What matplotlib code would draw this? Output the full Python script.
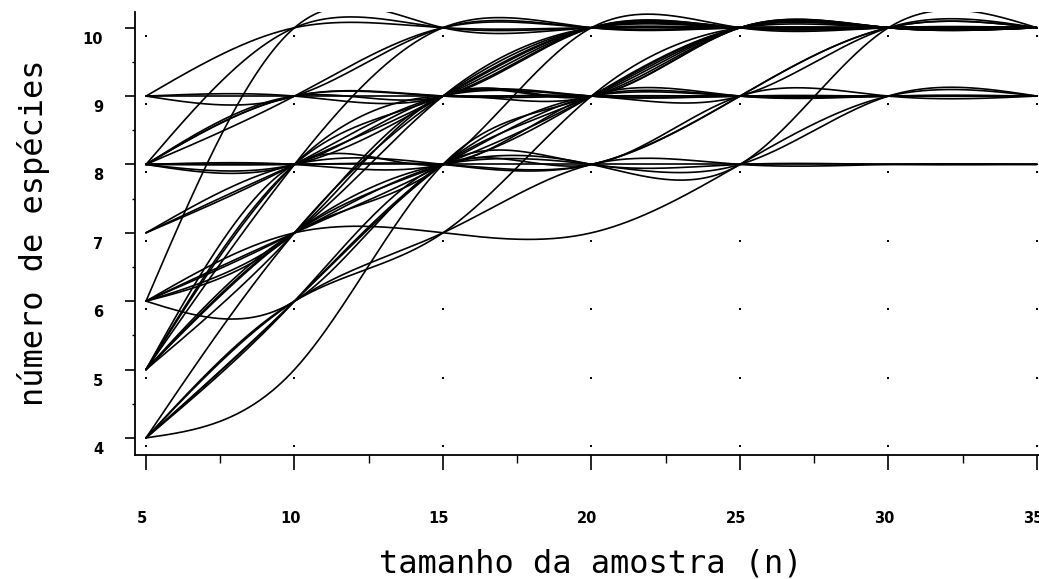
import numpy as np
import matplotlib
matplotlib.use("Agg")
import matplotlib.pyplot as plt
from matplotlib.transforms import ScaledTranslation

# ---------------- data ----------------
sample_sizes = [5, 10, 15, 20, 25, 30, 35]

start_9 = [
    [9, 10, 10, 10, 10, 10, 10],
    [9, 9, 9, 9, 9, 9, 9],
    [9, 9, 10, 10, 10, 10, 10],
    [9, 9, 9, 10, 10, 10, 10],
]
start_8 = [
    [8, 10, 10, 10, 10, 10, 10],
    [8, 9, 10, 10, 10, 10, 10],
    [8, 9, 9, 10, 10, 10, 10],
    [8, 9, 9, 9, 9, 10, 10],
    [8, 9, 9, 9, 9, 9, 9],
    [8, 8, 8, 8, 8, 8, 8],
    [8, 8, 9, 9, 9, 9, 9],
    [8, 8, 8, 9, 10, 10, 10],
    [8, 8, 9, 10, 10, 10, 10],
    [8, 8, 8, 8, 9, 10, 10],
]
start_7 = [
    [7, 8, 9, 9, 9, 9, 9],
    [7, 8, 8, 8, 9, 10, 10],
    [7, 8, 9, 10, 10, 10, 10],
]
start_6 = [
    [6, 10, 10, 10, 10, 10, 10],
    [6, 7, 9, 10, 10, 10, 10],
    [6, 7, 9, 9, 10, 10, 10],
    [6, 7, 7, 7, 8, 9, 9],
    [6, 6, 8, 8, 8, 8, 8],
    [6, 7, 8, 9, 9, 9, 9],
    [6, 7, 8, 8, 8, 10, 10],
]
start_5 = [
    [5, 8, 9, 9, 10, 10, 10],
    [5, 8, 8, 9, 9, 9, 9],
    [5, 8, 9, 10, 10, 10, 10],
    [5, 7, 9, 9, 10, 10, 10],
    [5, 7, 8, 8, 8, 9, 9],
    [5, 7, 8, 9, 10, 10, 10],
    [5, 8, 10, 10, 10, 10, 10],
    [5, 7, 8, 10, 10, 10, 10],
]
start_4 = [
    [4, 6, 8, 9, 9, 9, 9],
    [4, 6, 7, 8, 8, 8, 8],
    [4, 6, 8, 8, 9, 9, 9],
    [4, 5, 8, 9, 10, 10, 10],
    [4, 7, 9, 10, 10, 10, 10],
    [4, 6, 8, 9, 10, 10, 10],
    [4, 6, 7, 9, 10, 10, 10],
]

x_ticks = [5, 10, 15, 20, 25, 30, 35]
y_ticks = [4, 5, 6, 7, 8, 9, 10]
x_label = "tamanho da amostra (n)"
y_label = "número de espécies"


def natural_cubic(x, y, xs):
    x = np.asarray(x, float)
    y = np.asarray(y, float)
    n = len(x)
    h = np.diff(x)
    A = np.zeros((n, n))
    b = np.zeros(n)
    A[0, 0] = A[-1, -1] = 1.0
    for i in range(1, n - 1):
        A[i, i - 1] = h[i - 1]
        A[i, i] = 2 * (h[i - 1] + h[i])
        A[i, i + 1] = h[i]
        b[i] = 6 * ((y[i + 1] - y[i]) / h[i] - (y[i] - y[i - 1]) / h[i - 1])
    M = np.linalg.solve(A, b)
    idx = np.clip(np.searchsorted(x, xs) - 1, 0, n - 2)
    x0 = x[idx]
    x1 = x[idx + 1]
    hh = x1 - x0
    t0 = x1 - xs
    t1 = xs - x0
    return (M[idx] * t0 ** 3 / (6 * hh) + M[idx + 1] * t1 ** 3 / (6 * hh)
            + (y[idx] / hh - M[idx] * hh / 6) * t0
            + (y[idx + 1] / hh - M[idx + 1] * hh / 6) * t1)


# ---------------- figure ----------------
fig = plt.figure(figsize=(10.39, 5.79), dpi=100)
ax = fig.add_axes([135 / 1039, 124 / 579, 904 / 1039, 443 / 579])

xs = np.linspace(sample_sizes[0], sample_sizes[-1], 600)
for group in (start_9, start_8, start_7, start_6, start_5, start_4):
    for curve in group:
        ax.plot(xs, natural_cubic(sample_sizes, curve, xs), color="black",
                lw=1.2, solid_capstyle="round")

# small reference dots beneath each grid intersection
gx, gy = np.meshgrid(x_ticks, y_ticks)
dot_off = ax.transData + ScaledTranslation(0, -0.08, fig.dpi_scale_trans)
ax.plot(gx.ravel(), gy.ravel(), "s", color="black", ms=1.6, mew=0,
        transform=dot_off)

ax.set_xlim(4.63, 35.07)
ax.set_ylim(3.75, 10.23)

for s in ("top", "right"):
    ax.spines[s].set_visible(False)
for s in ("left", "bottom"):
    ax.spines[s].set_linewidth(1.3)

ax.set_xticks(x_ticks)
ax.set_xticks([7.5, 12.5, 17.5, 22.5, 27.5, 32.5], minor=True)
ax.set_yticks(y_ticks)
ax.set_yticks([4.5, 5.5, 6.5, 7.5, 8.5, 9.5], minor=True)
ax.set_xticklabels([str(v) for v in x_ticks], fontsize=10.5, fontweight="bold")
ax.set_yticklabels([str(v) for v in y_ticks], fontsize=10.5, fontweight="bold")

ax.tick_params(axis="x", which="major", direction="out", length=11, width=1.2, pad=29)
ax.tick_params(axis="x", which="minor", direction="out", length=5.5, width=1.0)
ax.tick_params(axis="y", which="major", direction="out", length=7, width=1.2, pad=16)
ax.tick_params(axis="y", which="minor", direction="out", length=2.5, width=1.0)

for lab in ax.get_yticklabels():
    lab.set_transform(lab.get_transform() + ScaledTranslation(0, -0.10, fig.dpi_scale_trans))
for lab in ax.get_xticklabels():
    lab.set_transform(lab.get_transform() + ScaledTranslation(-0.04, 0, fig.dpi_scale_trans))

fig.text(591 / 1039, 1 - 564 / 579, x_label, ha="center", va="center",
         fontsize=23, family="DejaVu Sans Mono", color="black")
fig.text(34 / 1039, 1 - 233 / 579, y_label, ha="center", va="center",
         rotation=90, fontsize=23, family="DejaVu Sans Mono", color="black")

fig.savefig("out.png", dpi=100)
